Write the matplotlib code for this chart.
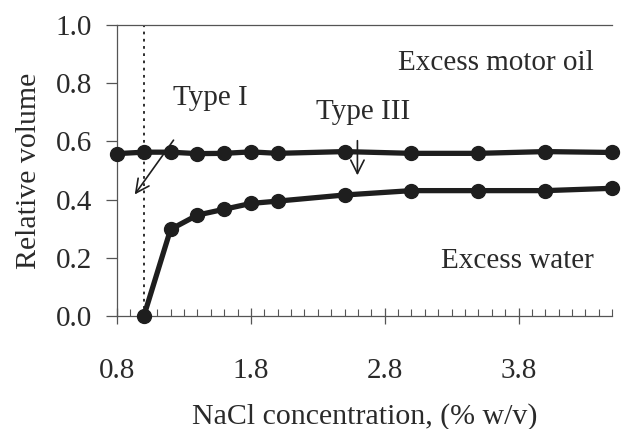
import matplotlib
matplotlib.use("Agg")
import matplotlib.pyplot as plt
from matplotlib.ticker import MultipleLocator, FixedLocator

plt.rcParams['font.family'] = ['Liberation Serif', 'DejaVu Serif']

nacl = [0.8, 1.0, 1.2, 1.4, 1.6, 1.8, 2.0, 2.5, 3.0, 3.5, 4.0, 4.5]
upper = [0.558, 0.563, 0.563, 0.558, 0.559, 0.564, 0.559, 0.565, 0.559, 0.559, 0.565, 0.562]
nacl_low = [1.0, 1.2, 1.4, 1.6, 1.8, 2.0, 2.5, 3.0, 3.5, 4.0, 4.5]
lower = [0.0, 0.298, 0.347, 0.367, 0.387, 0.395, 0.416, 0.431, 0.431, 0.431, 0.439]
x_ticks = [0.8, 1.8, 2.8, 3.8]
y_ticks = [0.0, 0.2, 0.4, 0.6, 0.8, 1.0]
boundary_x = 1.0

col = '#1e1e1e'
tcol = '#2a2a2a'
fig = plt.figure(figsize=(6.26, 4.29), dpi=100)
ax = fig.add_axes([0.187, 0.263, 0.791, 0.679])

ax.axvline(boundary_x, color=col, linestyle=(0, (1.5, 2.5)), linewidth=1.3, zorder=1)
ax.plot(nacl, upper, color=col, linewidth=3.8, marker='o', markersize=10, zorder=3, clip_on=False)
ax.plot(nacl_low, lower, color=col, linewidth=3.8, marker='o', markersize=10, zorder=3, clip_on=False)

ax.set_xlim(0.8, 4.5)
ax.set_ylim(0.0, 1.0)
ax.xaxis.set_major_locator(FixedLocator(x_ticks))
ax.xaxis.set_minor_locator(MultipleLocator(0.1))
ax.yaxis.set_major_locator(FixedLocator(y_ticks))
ax.set_xticklabels([f"{v:.1f}" for v in x_ticks])
ax.set_yticklabels([f"{v:.1f}" for v in y_ticks])

ax.tick_params(axis='x', which='major', direction='inout', length=12, width=0.9, color='#555555',
               labelsize=21, labelcolor=tcol, pad=24)
ax.tick_params(axis='x', which='minor', direction='in', length=5, width=0.8, color='#555555')
ax.tick_params(axis='y', which='major', direction='out', length=8, width=0.9, color='#555555',
               labelsize=21, labelcolor=tcol, pad=10)

for s in ['left', 'bottom', 'top']:
    ax.spines[s].set_color('#555555')
    ax.spines[s].set_linewidth(0.9)
ax.spines['right'].set_visible(False)

ax.set_xlabel("NaCl concentration, (% w/v)", fontsize=21.5, color=tcol, labelpad=14)
ax.set_ylabel("Relative volume", fontsize=21.5, color=tcol, labelpad=10)

ax.text(4.36, 0.87, "Excess motor oil", fontsize=21, color=tcol, ha='right', va='center')
ax.text(4.36, 0.19, "Excess water", fontsize=21, color=tcol, ha='right', va='center')
ax.text(1.50, 0.75, "Type I", fontsize=21, color=tcol, ha='center', va='center')
ax.text(2.64, 0.70, "Type III", fontsize=21, color=tcol, ha='center', va='center')

ax.annotate("", xy=(0.92, 0.41), xytext=(1.234, 0.612),
            arrowprops=dict(arrowstyle='->', color=col, lw=1.2, mutation_scale=24), zorder=4)
ax.annotate("", xy=(2.596, 0.474), xytext=(2.596, 0.612),
            arrowprops=dict(arrowstyle='->', color=col, lw=1.2, mutation_scale=24), zorder=4)

fig.savefig("out.png", dpi=100)
